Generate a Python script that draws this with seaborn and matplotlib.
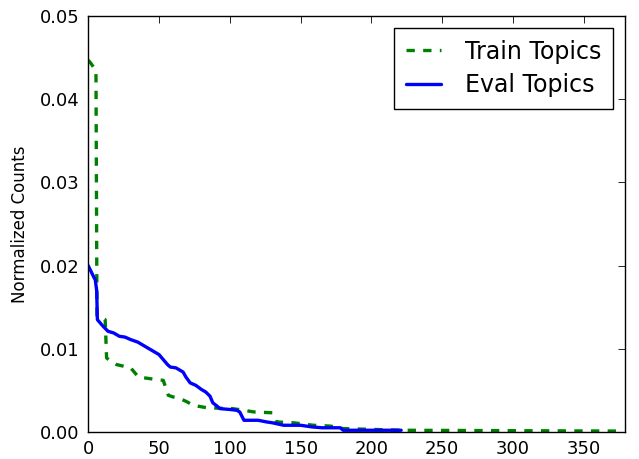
import matplotlib
matplotlib.use("Agg")
import matplotlib.pyplot as plt
import seaborn as sns

# topic rank vs normalized count (vertices)
train_x = [0, 2, 4, 5.5, 6.2, 7.3, 9, 12, 13, 15, 20, 30, 35.5, 48, 53, 56.6,
           60, 65, 70, 74, 84, 102, 110, 117, 130, 133, 145, 159, 171, 180,
           222, 378]
train_y = [0.0447, 0.0443, 0.0438, 0.0435, 0.0140, 0.0140, 0.0138, 0.0135,
           0.0089, 0.0086, 0.0081, 0.0077, 0.0066, 0.0063, 0.0062, 0.0044,
           0.0042, 0.0040, 0.0036, 0.0032, 0.0029, 0.0028, 0.0026, 0.0024,
           0.0023, 0.0012, 0.0011, 0.0008, 0.0007, 0.0004, 0.0002, 0.0001]

eval_x = [0, 2, 4, 5, 6, 6.5, 8, 10, 14, 18, 22, 26, 30, 35, 39, 43, 46, 50,
          53, 56, 58, 62, 67, 69, 72, 76, 80, 83, 86, 88, 91, 93, 100, 105,
          107, 110, 120, 126, 130, 138, 150, 158, 165, 178, 180, 221]
eval_y = [0.0200, 0.0193, 0.0186, 0.0183, 0.0170, 0.0135, 0.0132, 0.0128,
          0.0121, 0.0119, 0.0115, 0.0114, 0.0111, 0.0108, 0.0104, 0.0100,
          0.0097, 0.0093, 0.0087, 0.0081, 0.0078, 0.0077, 0.0072, 0.0066,
          0.0059, 0.0056, 0.0051, 0.0048, 0.0043, 0.0035, 0.0031, 0.0028,
          0.0027, 0.0026, 0.0024, 0.0014, 0.0014, 0.0012, 0.0011, 0.0008,
          0.0008, 0.0006, 0.0005, 0.0005, 0.0002, 0.0002]

x_ticks = [0, 50, 100, 150, 200, 250, 300, 350]
y_ticks = [0.00, 0.01, 0.02, 0.03, 0.04, 0.05]

sns.set_style("white")
plt.rcParams['font.family'] = ['DejaVu Sans']
plt.rcParams['lines.scale_dashes'] = False
plt.rcParams['text.color'] = 'black'
plt.rcParams['axes.labelcolor'] = 'black'

fig = plt.figure(figsize=(6.39, 4.59), dpi=100)
ax = fig.add_axes([0.138, 0.059, 0.840, 0.906])

sns.lineplot(x=train_x, y=train_y, ax=ax, color=(0, 0.5, 0), lw=2.4,
             dashes=False, estimator=None, sort=False, label='Train Topics')
sns.lineplot(x=eval_x, y=eval_y, ax=ax, color=(0, 0, 1), lw=2.4,
             estimator=None, sort=False, label='Eval Topics')
ax.lines[0].set_dashes((6, 6))

ax.set_xlim(0, 379)
ax.set_ylim(0, 0.05)
ax.set_xticks(x_ticks)
ax.set_yticks(y_ticks)
ax.set_yticklabels([f"{v:.2f}" for v in y_ticks])
ax.set_ylabel('Normalized Counts', fontsize=12, labelpad=8, color='black')
ax.tick_params(direction='in', top=True, right=True, length=5, width=0.6,
               labelsize=13, colors='black', pad=6)
for s in ax.spines.values():
    s.set_color('black')
    s.set_linewidth(1.0)

leg = ax.legend(loc='upper right', fontsize=17, handlelength=1.5,
                handletextpad=1.0, borderpad=0.5, labelspacing=0.4,
                fancybox=False, framealpha=1, borderaxespad=0.5)
leg.get_frame().set_edgecolor('black')
leg.get_lines()[0].set_dashes((6, 6))

fig.savefig('out.png', dpi=100)
